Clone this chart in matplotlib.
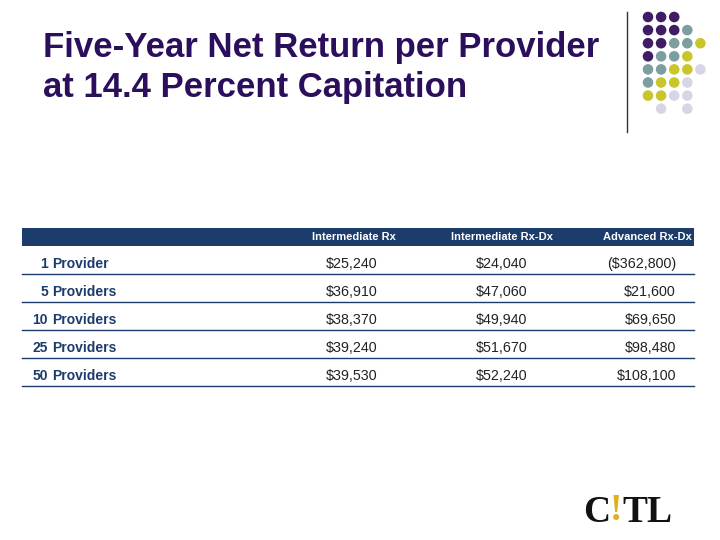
import matplotlib
matplotlib.use('Agg')
import matplotlib.pyplot as plt

# table data
columns = ['Intermediate Rx', 'Intermediate Rx-Dx', 'Advanced Rx-Dx']
providers = [1, 5, 10, 25, 50]
intermediate_rx = [25240, 36910, 38370, 39240, 39530]
intermediate_rxdx = [24040, 47060, 49940, 51670, 52240]
advanced_rxdx = [-362800, 21600, 69650, 98480, 108100]

title_lines = ['Five-Year Net Return per Provider', 'at 14.4 Percent Capitation']

# decorative dot grid (P=purple, T=teal, Y=yellow, L=lavender)
dot_grid = ['PPP..',
            'PPPT.',
            'PPTTY',
            'PTTY.',
            'TTYYL',
            'TYYL.',
            'YYLL.',
            '.L.L.']
dot_colors = {'P': '#3f1c63', 'T': '#7c9e9f', 'Y': '#c9c52b', 'L': '#d6d6e6'}

NAVY = '#1c3d6b'
TITLE = '#2b0f5c'


def money(v):
    if v < 0:
        return '(${:,})'.format(-v)
    return '${:,}'.format(v)


fig = plt.figure(figsize=(7.2, 5.4), dpi=100)
ax = fig.add_axes([0, 0, 1, 1])
ax.set_xlim(0, 720)
ax.set_ylim(540, 0)
ax.axis('off')

# title
for i, line in enumerate(title_lines):
    ax.text(43, 47 + i * 41, line, fontsize=25, fontweight='bold',
            family='Liberation Sans', color=TITLE, va='center', ha='left')

# dots + vertical rule
ax.plot([627, 627], [12, 132], color='#333333', lw=1)
for r, row in enumerate(dot_grid):
    for c, ch in enumerate(row):
        if ch == '.':
            continue
        ax.scatter(648 + c * 13.1, 17 + r * 13.1, s=58, color=dot_colors[ch],
                   edgecolors='none')

# header band
ax.fill_between([22, 694], 228, 246, color=NAVY, lw=0)
col_x = [354, 502, 647]
for x, name in zip(col_x, columns):
    ax.text(x, 237.5, name, fontsize=8, fontweight='bold', color='white',
            family='Liberation Sans', ha='center', va='center')

# rows
for i, n in enumerate(providers):
    y = 264 + i * 28
    ax.text(48, y, str(n), fontsize=10, fontweight='bold', color=NAVY,
            family='Liberation Sans', ha='right', va='center')
    ax.text(52, y, 'Provider' if n == 1 else 'Providers', fontsize=10,
            fontweight='bold', color=NAVY, family='Liberation Sans',
            ha='left', va='center')
    ax.text(352, y, money(intermediate_rx[i]), fontsize=10.3, color='#222222',
            family='Liberation Sans', ha='center', va='center')
    ax.text(502, y, money(intermediate_rxdx[i]), fontsize=10.3, color='#222222',
            family='Liberation Sans', ha='center', va='center')
    ax.text(676, y, money(advanced_rxdx[i]), fontsize=10.3, color='#222222',
            family='Liberation Sans', ha='right', va='center')
    ax.plot([22, 694], [y + 10, y + 10], color=NAVY, lw=1)

# logo
ax.text(583, 513, 'C', fontsize=27, fontweight='bold', family='Liberation Serif',
        color='#111111', ha='left', va='center')
ax.text(610, 511, '!', fontsize=27, fontweight='bold', family='Liberation Serif',
        color='#e0b020', ha='left', va='center')
ax.text(622, 513, 'TL', fontsize=27, fontweight='bold', family='Liberation Serif',
        color='#111111', ha='left', va='center')

fig.savefig('out.png', dpi=100, facecolor='white')
